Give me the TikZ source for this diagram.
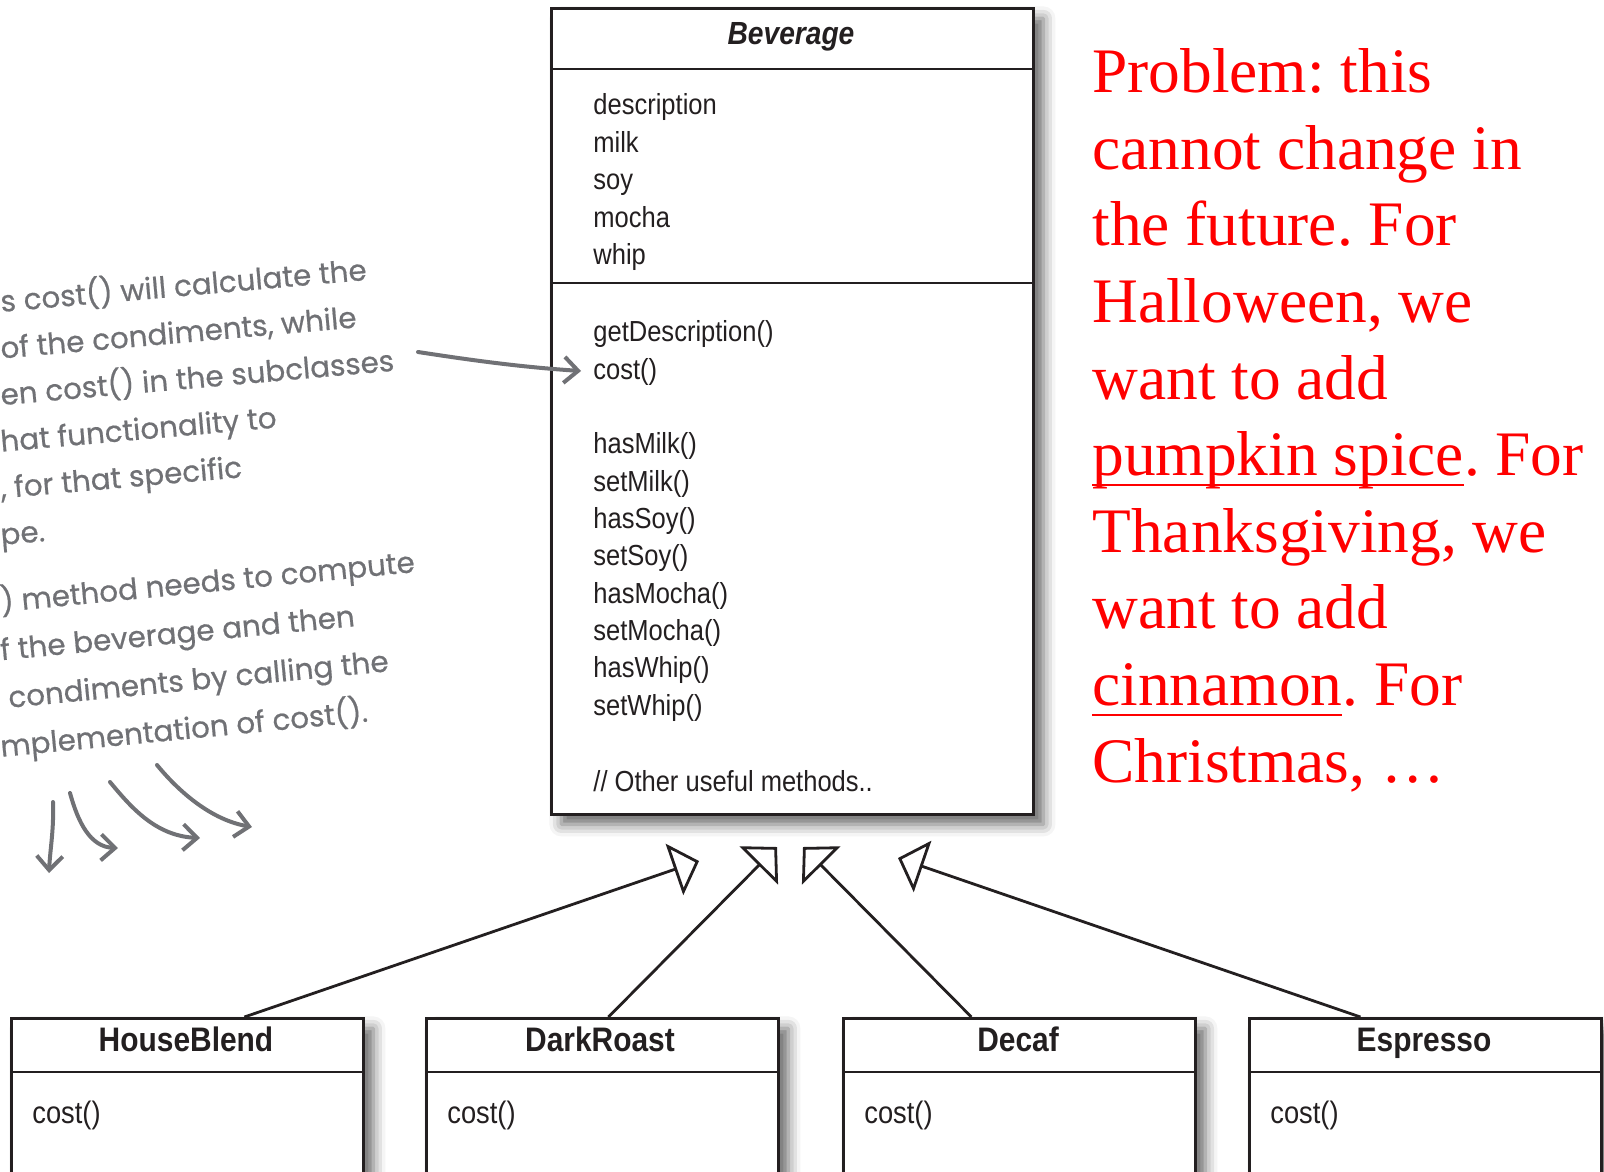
\documentclass[tikz,border=0pt]{standalone}
\usepackage{fontspec}
\setmainfont{Liberation Serif}
\newfontfamily\umlfont[FakeStretch=0.88]{Liberation Sans}
\newfontfamily\handfont[FakeBold=0.6]{Poppins}
\usepackage{tikz}
\usetikzlibrary{positioning,arrows.meta,shadows.blur}

\definecolor{pencil}{RGB}{112,113,117}
\definecolor{umlink}{RGB}{35,31,32}

\newcommand{\redul}[1]{\setbox0\hbox{#1}\rlap{\rule[-0.16em]{\wd0}{0.032em}}\box0}

\tikzset{
	classbox/.style={draw=umlink, line width=1.4pt, fill=white, anchor=north west, inner sep=0pt,
		blur shadow={shadow xshift=5pt, shadow yshift=-5pt, shadow blur radius=6pt, shadow opacity=60}},
	classname/.style={font=\umlfont\bfseries\fontsize{17}{20}\selectfont, text=umlink, anchor=base, inner sep=0pt},
	member/.style={font=\umlfont\fontsize{14.5}{18}\selectfont, text=umlink, anchor=base west, inner sep=0pt},
	divider/.style={draw=umlink, line width=1.4pt},
	inherit/.style={draw=umlink, line width=1.4pt, -{Triangle[open, length=13pt, width=27pt]}},
	scribble/.style={font=\handfont\fontsize{14.7}{19}\selectfont, text=pencil, inner sep=0pt, anchor=base west},
	pencilarrow/.style={draw=pencil, line width=2pt, line cap=round, -{Straight Barb[length=7pt, width=13pt]}},
}

\begin{document}
\frenchspacing
\begin{tikzpicture}[x=0.5pt, y=-0.5pt]
	\useasboundingbox (0,0) rectangle (1604,1171);
	\clip (0,0) rectangle (1604,1171);

	% abstract superclass
	\node[classbox, minimum width=241pt, minimum height=403pt] (bev) at (550,7) {};
	\node[classname, font=\umlfont\bfseries\itshape\fontsize{16}{19}\selectfont] (bevname) at (791,45) {Beverage};
	\draw[divider] (550,69) -- (1032,69);
	\draw[divider] (550,283) -- (1032,283);
	\foreach \m [count=\i] in {description,milk,soy,mocha,whip}
		\node[member] (attr\i) at (593,{115+37.5*(\i-1)}) {\m};
	\foreach \k/\m in {0/getDescription(),1/cost(),3/hasMilk(),4/setMilk(),5/hasSoy(),6/setSoy(),7/hasMocha(),8/setMocha(),9/hasWhip(),10/setWhip()}
		\node[member] (meth\k) at (593,{342+37.3*\k}) {\m};
	\node[member] (methother) at (593,791) {// Other useful methods..};

	% concrete subclasses
	\node[classbox, minimum width=176pt, minimum height=95pt] (house) at (10,1017) {};
	\node[classbox, minimum width=176pt, minimum height=95pt] (dark) at (425,1017) {};
	\node[classbox, minimum width=176pt, minimum height=95pt] (decaf) at (842,1017) {};
	\node[classbox, minimum width=176pt, minimum height=95pt] (espresso) at (1248,1017) {};
	\node[classname] (housename) at (186,1051) {HouseBlend};
	\node[classname] (darkname) at (600,1051) {DarkRoast};
	\node[classname] (decafname) at (1018,1051) {Decaf};
	\node[classname] (espressoname) at (1424,1051) {Espresso};
	\draw[divider] (10,1072) -- (362,1072);
	\draw[divider] (425,1072) -- (777,1072);
	\draw[divider] (842,1072) -- (1194,1072);
	\draw[divider] (1248,1072) -- (1600,1072);
	\node[member, font=\umlfont\fontsize{15.5}{18}\selectfont] (housecost) at (32,1123) {cost()};
	\node[member, font=\umlfont\fontsize{15.5}{18}\selectfont] (darkcost) at (447,1123) {cost()};
	\node[member, font=\umlfont\fontsize{15.5}{18}\selectfont] (decafcost) at (864,1123) {cost()};
	\node[member, font=\umlfont\fontsize{15.5}{18}\selectfont] (espressocost) at (1270,1123) {cost()};

	% generalisation arrows
	\coordinate (tip1) at (699,861);
	\coordinate (tip2) at (777,847);
	\coordinate (tip3) at (803,847);
	\coordinate (tip4) at (898,858);
	\draw[inherit] ([xshift=28.5pt]house.north) -- (tip1);
	\draw[inherit] ([xshift=3pt]dark.north) -- (tip2);
	\draw[inherit] ([xshift=-24pt]decaf.north) -- (tip3);
	\draw[inherit] ([xshift=-32.5pt]espresso.north) -- (tip4);

	% the problem (base anchor sits on the last line)
	\node[anchor=base west, align=left, inner sep=0pt, text=red, font=\fontsize{31.7}{38.3}\selectfont] (problem) at (1092,782)
		{Problem: this\\cannot change in\\the future. For\\Halloween, we\\want to add\\\redul{pumpkin spice}. For\\Thanksgiving, we\\want to add\\\redul{cinnamon}. For\\Christmas, …};

	% handwritten notes
	\foreach \t [count=\i from 0] in {s cost() will calculate the,{of the condiments, while},en cost() in the subclasses,hat functionality to,{, for that specific},pe.}
		\node[scribble, rotate=5] (notea\i) at (1,{312+46.6*\i}) {\t};
	\foreach \t [count=\i from 0] in {) method needs to compute,f the beverage and then,\hspace{4pt}condiments by calling the,mplementation of cost().}
		\node[scribble, rotate=5.5] (noteb\i) at (1,{612+48.3*\i}) {\t};
	\coordinate (notetail) at (418,352);
	\draw[pencilarrow, shorten >=6pt] (notetail) .. controls (470,360) and (520,367) .. (meth1.west);
	\coordinate (sq1a) at (53,802);  \coordinate (sq1b) at (49,873);
	\coordinate (sq2a) at (70,793);  \coordinate (sq2b) at (118,848);
	\coordinate (sq3a) at (110,782); \coordinate (sq3b) at (200,838);
	\coordinate (sq4a) at (157,765); \coordinate (sq4b) at (252,827);
	\draw[pencilarrow] (sq1a) .. controls (54,830) and (50,850) .. (sq1b);
	\draw[pencilarrow] (sq2a) .. controls (78,822) and (90,847) .. (sq2b);
	\draw[pencilarrow] (sq3a) .. controls (130,806) and (155,836) .. (sq3b);
	\draw[pencilarrow] (sq4a) .. controls (180,793) and (212,820) .. (sq4b);
\end{tikzpicture}
\end{document}
